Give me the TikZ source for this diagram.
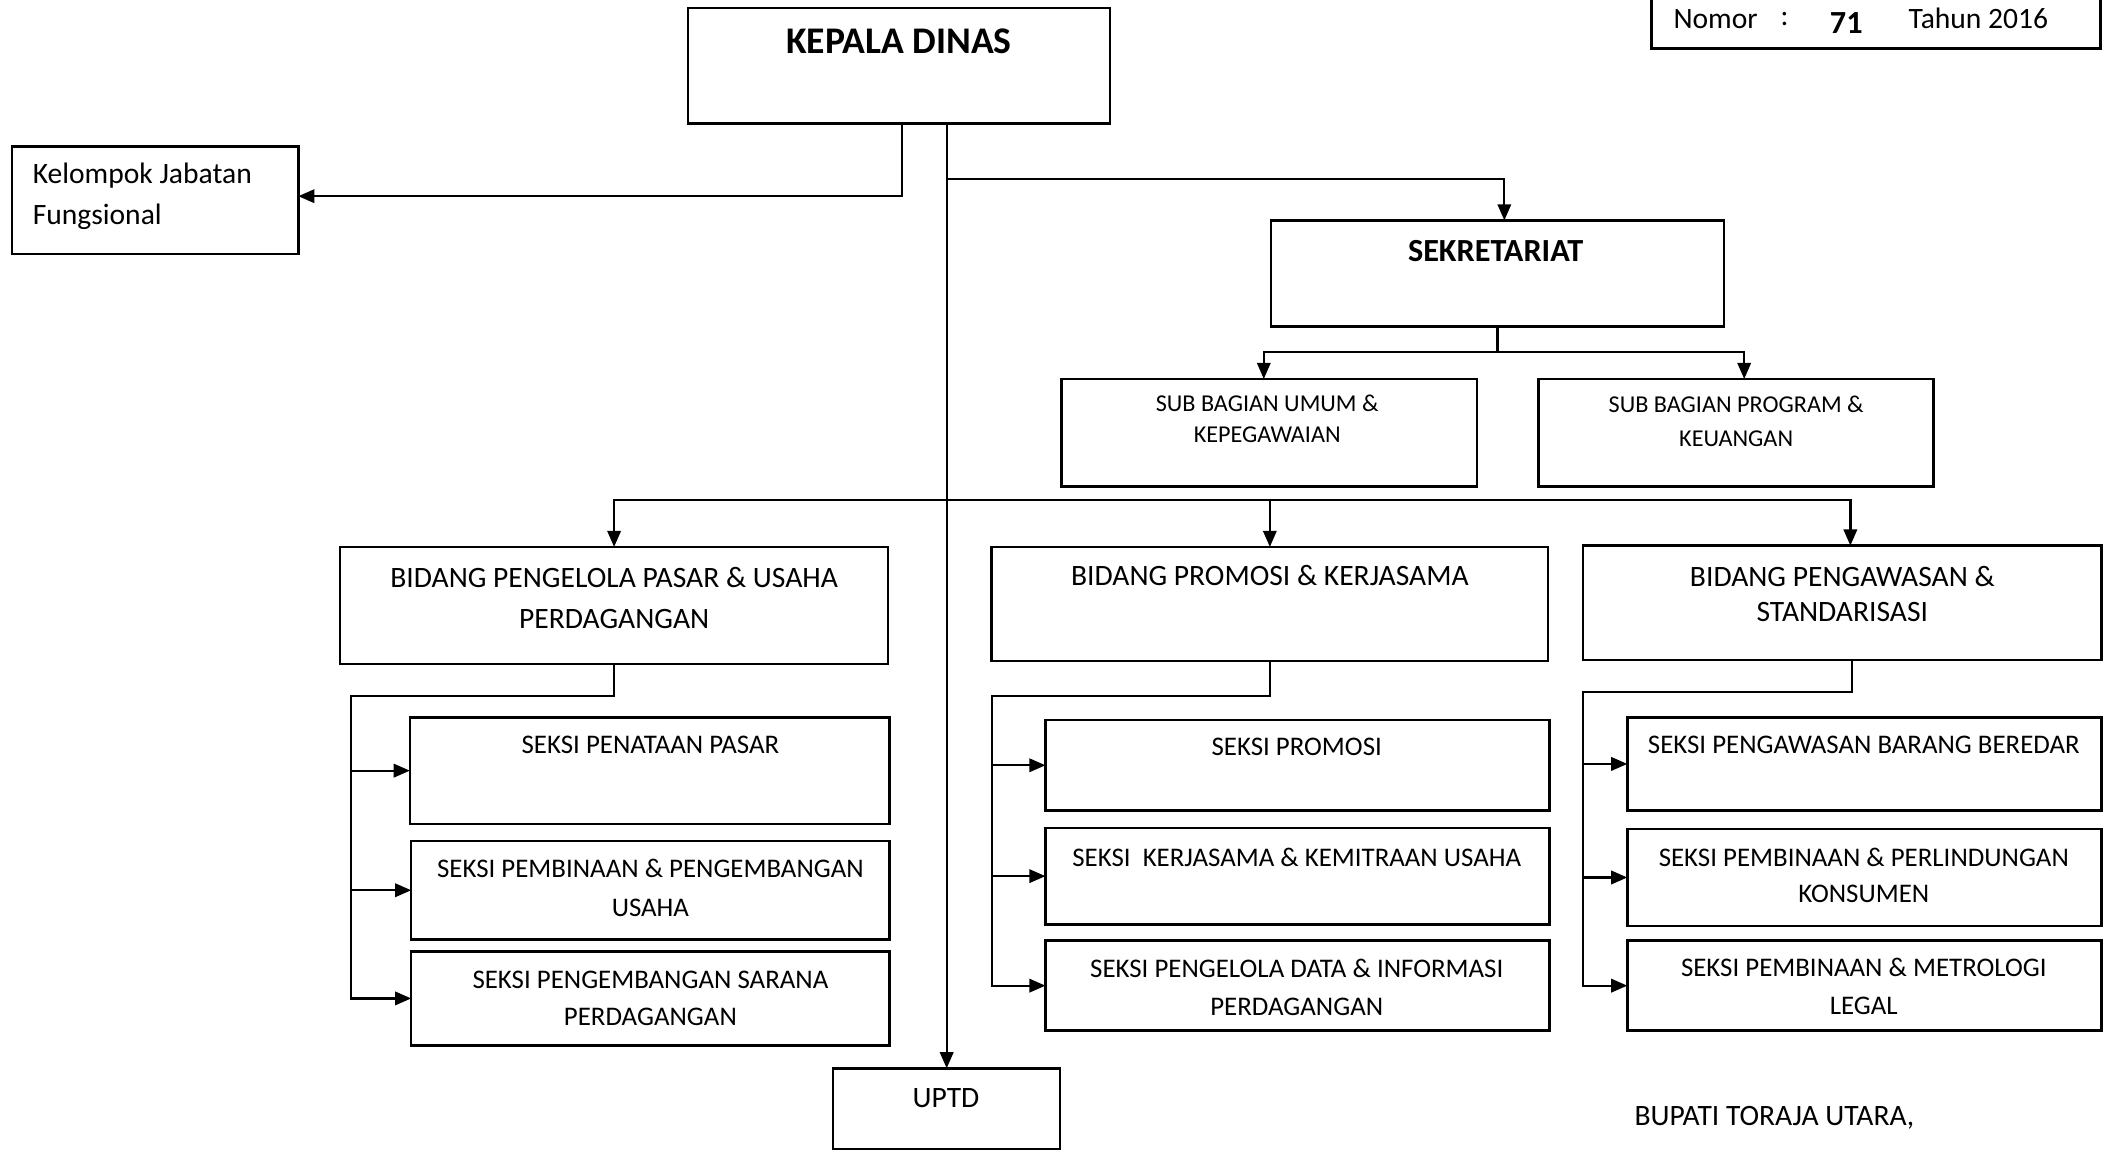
\documentclass[tikz,border=0pt]{standalone}
\usepackage{fontspec}
\setmainfont{Carlito}
\usetikzlibrary{arrows.meta,calc}
\newcommand\mkbox[5]{\node[box, minimum width={(#4-#2)*0.5pt}, minimum height={(#5-#3)*0.5pt}] (#1) at (#2,#3) {};}
\begin{document}
\begin{tikzpicture}[x=0.5pt,y=-0.5pt,
  box/.style={draw, line width=0.9pt, inner sep=0pt, outer sep=0pt, anchor=north west},
  lbl/.style={align=center, inner sep=0pt, font=\fontsize{10}{14.5}\selectfont},
  con/.style={line width=0.85pt},
  arr/.style={con, -{Triangle[length=6pt,width=5pt]}},
]
\useasboundingbox (0,0) rectangle (1568,857);
% boxes
\mkbox{kd}{512}{6}{826}{92}
\mkbox{kjf}{9}{109}{222}{189}
\mkbox{sek}{946}{164}{1283}{243}
\mkbox{sub1}{790}{282}{1099}{362}
\mkbox{sub2}{1145}{282}{1439}{362}
\mkbox{b1}{253}{407}{661}{494}
\mkbox{b2}{738}{407}{1152}{492}
\mkbox{b3}{1178}{406}{1564}{491}
\mkbox{s11}{305}{534}{662}{613}
\mkbox{s12}{306}{626}{662}{699}
\mkbox{s13}{306}{708}{662}{778}
\mkbox{s21}{778}{536}{1153}{603}
\mkbox{s22}{778}{616}{1153}{688}
\mkbox{s23}{778}{700}{1153}{767}
\mkbox{s31}{1211}{534}{1564}{603}
\mkbox{s32}{1211}{617}{1564}{689}
\mkbox{s33}{1211}{700}{1564}{767}
\mkbox{uptd}{620}{795}{789}{855}
\mkbox{nomor}{1229}{-10}{1563}{36}
% texts
\node[lbl, font=\fontsize{14}{16}\selectfont\bfseries] (kdt) at (669,31) {KEPALA DINAS};
\node[lbl, align=left, anchor=west, font=\fontsize{11}{15.5}\selectfont] (kjft) at (24,146) {Kelompok Jabatan\\Fungsional};
\node[lbl, font=\fontsize{12}{14}\selectfont\bfseries] (sekt) at (1113,187) {SEKRETARIAT};
\node[lbl, font=\fontsize{9}{11.5}\selectfont] (sub1t) at (943,311.5) {SUB BAGIAN UMUM \&\\KEPEGAWAIAN};
\node[lbl, font=\fontsize{9}{12.5}\selectfont] (sub2t) at (1292,313.5) {SUB BAGIAN PROGRAM \&\\KEUANGAN};
\node[lbl, font=\fontsize{11}{15}\selectfont] (b1t) at (457,445) {BIDANG PENGELOLA PASAR \& USAHA\\PERDAGANGAN};
\node[lbl, font=\fontsize{11}{15}\selectfont] (b2t) at (945,428) {BIDANG PROMOSI \& KERJASAMA};
\node[lbl, font=\fontsize{11}{13}\selectfont] (b3t) at (1371,442) {BIDANG PENGAWASAN \&\\STANDARISASI};
\node[lbl] (s11t) at (484,554) {SEKSI PENATAAN PASAR};
\node[lbl] (s12t) at (484,660.5) {SEKSI PEMBINAAN \& PENGEMBANGAN\\USAHA};
\node[lbl, font=\fontsize{10}{14}\selectfont] (s13t) at (484,743) {SEKSI PENGEMBANGAN SARANA\\PERDAGANGAN};
\node[lbl] (s21t) at (965,556) {SEKSI PROMOSI};
\node[lbl] (s22t) at (965,638) {SEKSI\ \ KERJASAMA \& KEMITRAAN USAHA};
\node[lbl, font=\fontsize{10}{14}\selectfont] (s23t) at (965,735) {SEKSI PENGELOLA DATA \& INFORMASI\\PERDAGANGAN};
\node[lbl] (s31t) at (1387,554) {SEKSI PENGAWASAN BARANG BEREDAR};
\node[lbl, font=\fontsize{10}{13.5}\selectfont] (s32t) at (1387,651.5) {SEKSI PEMBINAAN \& PERLINDUNGAN\\KONSUMEN};
\node[lbl, font=\fontsize{10}{14}\selectfont] (s33t) at (1387,734) {SEKSI PEMBINAAN \& METROLOGI\\LEGAL};
\node[lbl, font=\fontsize{11}{13}\selectfont] (uptdt) at (704,817) {UPTD};
\node[lbl, anchor=west, font=\fontsize{11}{13}\selectfont] (nom1) at (1245,14) {Nomor};
\node[lbl, font=\fontsize{11}{13}\selectfont] (nom2) at (1328,14) {:};
\node[lbl, font=\fontsize{12}{13}\selectfont\bfseries] (nom3) at (1374,17) {71};
\node[lbl, anchor=west, font=\fontsize{11}{13}\selectfont] (nom4) at (1420,14) {Tahun 2016};
\node[lbl, anchor=west, font=\fontsize{11}{13}\selectfont] (bup) at (1216,832) {BUPATI TORAJA UTARA,};
% connectors
\coordinate (j1) at (704.5,133);
\coordinate (j2) at (704.5,372);
\draw[arr] ([xshift=1pt]kd.south) |- ([yshift=1.5pt]kjf.east);
\draw[arr] (kd.south -| uptd.north) -- (uptd.north);
\draw[arr] (j1) -| ([xshift=2.5pt]sek.north);
\draw[arr] (sek.south) -- ++(0,19) -| ([xshift=-2pt]sub1.north);
\draw[arr] (sek.south) -- ++(0,19) -| ([xshift=3pt]sub2.north);
\draw[arr] (j2) -| (b1.north);
\draw[arr] (j2) -| (b2.north);
\draw[arr] (j2) -| ([xshift=3pt]b3.north);
% group 1
\coordinate (g1) at (261,518);
\draw[arr] (b1.south) |- (g1) |- (s13.west);
\draw[arr] (g1 |- s11.west) -- (s11.west);
\draw[arr] (g1 |- s12.west) -- (s12.west);
% group 2
\coordinate (g2) at (738,518);
\draw[arr] (b2.south) |- (g2) |- (s23.west);
\draw[arr] (g2 |- s21.west) -- (s21.west);
\draw[arr] (g2 |- s22.west) -- (s22.west);
% group 3
\coordinate (g3) at (1178,515);
\draw[arr] ([xshift=3.5pt]b3.south) |- (g3) |- (s33.west);
\draw[arr] (g3 |- s31.west) -- (s31.west);
\draw[arr] (g3 |- s32.west) -- (s32.west);
\end{tikzpicture}
\end{document}
